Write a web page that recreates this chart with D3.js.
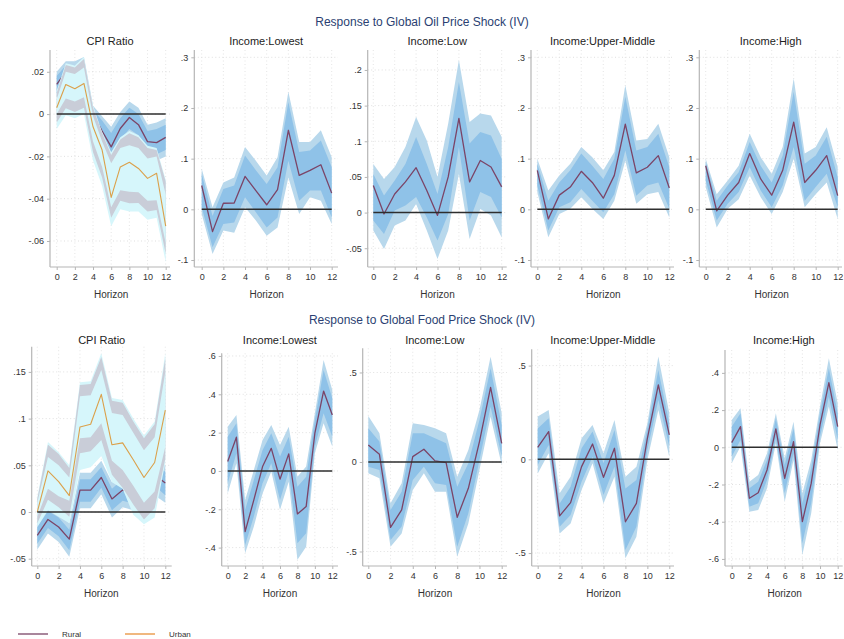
<!DOCTYPE html>
<html>
<head>
<meta charset="utf-8">
<script src="https://cdn.jsdelivr.net/npm/d3@7.9.0/dist/d3.min.js"></script>
<style>
  html, body { margin: 0; padding: 0; background: #fff; }
  svg { display: block; font-family: "Liberation Sans", Arial, sans-serif; }
</style>
</head>
<body>
<svg id="chart" width="844" height="639"></svg>
<script>
// horizons and tick labels
const horizons = [0, 1, 2, 3, 4, 5, 6, 7, 8, 9, 10, 11, 12];
const xTicks = [0, 2, 4, 6, 8, 10, 12];
const rowTitles = ['Response to Global Oil Price Shock (IV)', 'Response to Global Food Price Shock (IV)'];
const panelTitles = ['CPI Ratio', 'Income:Lowest', 'Income:Low', 'Income:Upper-Middle', 'Income:High'];
const legendLabels = ['Rural', 'Urban'];

// y ticks per panel
const ticksOilCpi = [0.02, 0, -0.02, -0.04, -0.06];
const ticksOilInc = [0.3, 0.2, 0.1, 0, -0.1];
const ticksOilLow = [0.2, 0.15, 0.1, 0.05, 0, -0.05];
const ticksFoodCpi = [0.15, 0.1, 0.05, 0, -0.05];
const ticksFoodLowest = [0.6, 0.4, 0.2, 0, -0.2, -0.4];
const ticksFoodLow = [0.5, 0, -0.5];
const ticksFoodHigh = [0.4, 0.2, 0, -0.2, -0.4, -0.6];

// ---- oil shock, CPI ratio ----
const oilRuralIrf  = [0.014, 0.02, 0.02, 0.021, 0.0, -0.008, -0.0155, -0.0068, -0.0016, -0.005, -0.013, -0.0135, -0.011];
const oilRuralHi90 = [0.02, 0.025, 0.025, 0.027, 0.004, -0.001, -0.006, 0.001, 0.006, 0.003, -0.005, -0.004, -0.002];
const oilRuralLo90 = [0.008, 0.014, 0.014, 0.015, -0.005, -0.015, -0.025, -0.015, -0.01, -0.013, -0.021, -0.022, -0.02];
const oilRuralHi68 = [0.018, 0.023, 0.023, 0.025, 0.002, -0.003, -0.009, -0.002, 0.003, 0.0, -0.008, -0.007, -0.005];
const oilRuralLo68 = [0.01, 0.016, 0.016, 0.017, -0.003, -0.012, -0.022, -0.012, -0.007, -0.01, -0.018, -0.019, -0.017];

const oilUrbanIrf  = [0.003, 0.014, 0.012, 0.0145, -0.006, -0.017, -0.0394, -0.025, -0.0228, -0.0257, -0.0304, -0.028, -0.053];
const oilUrbanHi95 = [0.011, 0.024, 0.023, 0.027, 0.004, -0.0085, -0.018, -0.011, -0.008, -0.01, -0.015, -0.016, -0.031];
const oilUrbanHi90 = [0.01, 0.0232, 0.022, 0.026, 0.003, -0.009, -0.0194, -0.012, -0.0091, -0.011, -0.016, -0.017, -0.032];
const oilUrbanHi68 = [0.007, 0.02, 0.019, 0.022, -0.001, -0.013, -0.0233, -0.016, -0.0147, -0.016, -0.021, -0.02, -0.038];
const oilUrbanLo68 = [0.0, 0.0074, 0.006, 0.008, -0.013, -0.025, -0.044, -0.036, -0.0367, -0.037, -0.041, -0.0407, -0.061];
const oilUrbanLo90 = [-0.004, 0.0027, 0.001, 0.003, -0.018, -0.03, -0.049, -0.041, -0.0422, -0.042, -0.046, -0.0454, -0.066];
const oilUrbanLo95 = [-0.007, -0.0005, -0.002, 0.0, -0.022, -0.034, -0.053, -0.045, -0.046, -0.046, -0.05, -0.049, -0.07];

// ---- oil shock, income groups ----
const oilLowestIrf  = [0.047, -0.044, 0.012, 0.0125, 0.065, 0.037, 0.009, 0.039, 0.156, 0.067, 0.077, 0.088, 0.032];
const oilLowestHi90 = [0.08, 0.004, 0.053, 0.063, 0.123, 0.096, 0.067, 0.103, 0.232, 0.133, 0.133, 0.156, 0.103];
const oilLowestLo90 = [-0.009, -0.088, -0.042, -0.046, 0.004, -0.022, -0.052, -0.036, 0.063, -0.009, 0.024, 0.017, -0.029];
const oilLowestHi68 = [0.07, -0.013, 0.04, 0.047, 0.106, 0.077, 0.05, 0.083, 0.212, 0.113, 0.116, 0.136, 0.083];
const oilLowestLo68 = [0.004, -0.075, -0.029, -0.026, 0.024, -0.006, -0.036, -0.016, 0.096, 0.017, 0.037, 0.037, -0.016];

const oilLowIrf  = [0.038, -0.002, 0.026, 0.043, 0.063, 0.031, -0.004, 0.05, 0.132, 0.043, 0.073, 0.064, 0.036];
const oilLowHi90 = [0.068, 0.047, 0.064, 0.092, 0.134, 0.101, 0.05, 0.125, 0.214, 0.127, 0.139, 0.136, 0.106];
const oilLowLo90 = [-0.025, -0.051, -0.018, -0.011, 0.012, -0.025, -0.065, -0.025, 0.054, -0.037, 0.005, -0.004, -0.035];
const oilLowHi68 = [0.054, 0.024, 0.045, 0.068, 0.106, 0.068, 0.026, 0.092, 0.183, 0.097, 0.113, 0.108, 0.075];
const oilLowLo68 = [-0.011, -0.03, 0.003, 0.01, 0.022, -0.007, -0.039, -0.002, 0.092, -0.011, 0.029, 0.022, -0.007];

const oilUpperMidIrf  = [0.077, -0.019, 0.028, 0.044, 0.075, 0.053, 0.022, 0.067, 0.168, 0.072, 0.083, 0.106, 0.042];
const oilUpperMidHi90 = [0.1, 0.037, 0.067, 0.09, 0.123, 0.103, 0.077, 0.113, 0.245, 0.136, 0.139, 0.169, 0.103];
const oilUpperMidLo90 = [0.034, -0.055, -0.009, 0.001, 0.024, 0.001, -0.019, 0.017, 0.096, 0.011, 0.03, 0.034, -0.016];
const oilUpperMidHi68 = [0.09, 0.017, 0.053, 0.077, 0.11, 0.086, 0.06, 0.1, 0.222, 0.116, 0.123, 0.149, 0.083];
const oilUpperMidLo68 = [0.047, -0.042, 0.004, 0.014, 0.04, 0.017, -0.006, 0.03, 0.116, 0.027, 0.047, 0.053, 0.001];

const oilHighIrf  = [0.086, -0.003, 0.028, 0.053, 0.11, 0.06, 0.028, 0.077, 0.172, 0.053, 0.077, 0.106, 0.027];
const oilHighHi90 = [0.1, 0.03, 0.057, 0.086, 0.149, 0.103, 0.07, 0.123, 0.258, 0.11, 0.123, 0.162, 0.083];
const oilHighLo90 = [0.044, -0.036, 0.001, 0.02, 0.067, 0.024, -0.009, 0.034, 0.1, 0.004, 0.03, 0.053, -0.019];
const oilHighHi68 = [0.093, 0.017, 0.047, 0.073, 0.133, 0.086, 0.053, 0.106, 0.232, 0.09, 0.106, 0.143, 0.063];
const oilHighLo68 = [0.057, -0.022, 0.011, 0.034, 0.083, 0.037, 0.004, 0.047, 0.123, 0.017, 0.044, 0.07, 0.004];

// ---- food shock, CPI ratio ----
const foodRuralIrf  = [-0.025, -0.008, -0.016, -0.029, 0.0235, 0.0235, 0.037, 0.014, 0.0235, 0.02, 0.015, 0.04, 0.031];
const foodRuralHi90 = [-0.01, 0.007, 0.0, -0.012, 0.042, 0.042, 0.055, 0.032, 0.042, 0.038, 0.033, 0.06, 0.05];
const foodRuralLo90 = [-0.04, -0.023, -0.032, -0.048, 0.004, 0.004, 0.019, -0.006, 0.005, 0.002, -0.003, 0.018, 0.01];
const foodRuralHi68 = [-0.016, 0.001, -0.006, -0.019, 0.035, 0.035, 0.048, 0.025, 0.035, 0.031, 0.026, 0.051, 0.043];
const foodRuralLo68 = [-0.034, -0.017, -0.026, -0.041, 0.011, 0.011, 0.026, 0.002, 0.012, 0.009, 0.004, 0.028, 0.018];

const foodUrbanIrf  = [0.0, 0.044, 0.0325, 0.0175, 0.091, 0.094, 0.126, 0.072, 0.074, 0.056, 0.037, 0.053, 0.109];
const foodUrbanHi95 = [0.016, 0.075, 0.064, 0.05, 0.139, 0.14, 0.17, 0.122, 0.12, 0.1, 0.082, 0.097, 0.17];
const foodUrbanHi90 = [0.014, 0.072, 0.062, 0.047, 0.136, 0.137, 0.166, 0.119, 0.117, 0.097, 0.079, 0.094, 0.165];
const foodUrbanHi68 = [0.01, 0.059, 0.05, 0.037, 0.124, 0.125, 0.152, 0.106, 0.104, 0.085, 0.066, 0.08, 0.15];
const foodUrbanLo68 = [-0.005, 0.025, 0.017, 0.012, 0.079, 0.08, 0.095, 0.055, 0.045, 0.028, 0.01, 0.022, 0.07];
const foodUrbanLo90 = [-0.012, 0.013, 0.005, -0.005, 0.063, 0.065, 0.077, 0.04, 0.026, 0.008, -0.008, 0.004, 0.057];
const foodUrbanLo95 = [-0.016, 0.002, -0.005, -0.012, 0.045, 0.048, 0.06, 0.032, 0.025, -0.003, -0.013, -0.006, 0.053];

// ---- food shock, income groups ----
const foodLowestIrf  = [0.049, 0.176, -0.317, -0.151, 0.023, 0.118, -0.043, 0.089, -0.224, -0.186, 0.197, 0.417, 0.292];
const foodLowestHi90 = [0.231, 0.292, -0.151, 0.005, 0.162, 0.24, 0.136, 0.231, -0.03, 0.023, 0.301, 0.579, 0.423];
const foodLowestLo90 = [-0.117, 0.04, -0.43, -0.29, -0.117, -0.003, -0.203, -0.056, -0.464, -0.395, 0.092, 0.249, 0.127];
const foodLowestHi68 = [0.179, 0.249, -0.203, -0.047, 0.11, 0.197, 0.075, 0.179, -0.082, -0.03, 0.266, 0.527, 0.379];
const foodLowestLo68 = [-0.064, 0.092, -0.386, -0.238, -0.064, 0.04, -0.151, -0.003, -0.377, -0.325, 0.127, 0.301, 0.179];

const foodLowIrf  = [0.095, 0.043, -0.365, -0.268, 0.03, 0.071, 0.006, -0.004, -0.309, -0.147, 0.114, 0.417, 0.104];
const foodLowHi90 = [0.257, 0.16, -0.231, -0.119, 0.216, 0.207, 0.188, 0.16, -0.082, 0.067, 0.29, 0.588, 0.272];
const foodLowLo90 = [-0.063, -0.091, -0.473, -0.399, -0.156, -0.063, -0.166, -0.166, -0.529, -0.343, -0.045, 0.253, -0.017];
const foodLowHi68 = [0.188, 0.114, -0.268, -0.166, 0.16, 0.16, 0.132, 0.104, -0.138, -0.007, 0.235, 0.523, 0.207];
const foodLowLo68 = [-0.026, -0.045, -0.436, -0.361, -0.101, -0.026, -0.119, -0.128, -0.473, -0.287, 0.011, 0.309, 0.03];

const foodUpperMidIrf  = [0.064, 0.148, -0.302, -0.231, -0.039, 0.082, -0.096, 0.059, -0.333, -0.235, 0.112, 0.397, 0.13];
const foodUpperMidHi90 = [0.228, 0.263, -0.181, -0.093, 0.112, 0.183, 0.032, 0.21, -0.093, -0.039, 0.192, 0.548, 0.246];
const foodUpperMidLo90 = [-0.075, 0.032, -0.395, -0.342, -0.164, -0.021, -0.235, -0.093, -0.528, -0.413, -0.004, 0.263, 0.014];
const foodUpperMidHi68 = [0.165, 0.219, -0.235, -0.146, 0.059, 0.148, -0.021, 0.157, -0.155, -0.11, 0.165, 0.477, 0.192];
const foodUpperMidLo68 = [-0.03, 0.077, -0.359, -0.297, -0.119, 0.014, -0.19, -0.039, -0.484, -0.359, 0.05, 0.317, 0.068];

const foodHighIrf  = [0.025, 0.111, -0.274, -0.244, -0.122, 0.099, -0.167, 0.03, -0.4, -0.194, 0.12, 0.348, 0.111];
const foodHighHi90 = [0.147, 0.21, -0.185, -0.149, -0.032, 0.183, -0.059, 0.138, -0.247, -0.068, 0.219, 0.478, 0.237];
const foodHighLo90 = [-0.086, 0.004, -0.346, -0.337, -0.22, 0.022, -0.292, -0.068, -0.579, -0.355, 0.022, 0.219, -0.014];
const foodHighHi68 = [0.111, 0.183, -0.22, -0.185, -0.068, 0.156, -0.095, 0.102, -0.301, -0.113, 0.183, 0.425, 0.183];
const foodHighLo68 = [-0.05, 0.039, -0.319, -0.301, -0.176, 0.048, -0.247, -0.032, -0.516, -0.301, 0.057, 0.272, 0.039];

// colours
const bandOuter = '#b8d8ec';
const bandInner = '#8fc2e8';
const ruralColor = '#7b4467';
const urbanColor = '#dba04a';
const urbanCyan = '#d6f6fb';
const urbanGrey = '#c9cdd8';

const svg = d3.select('#chart');

// layout of each panel (pixels) -- x0/x12 = where horizon 0 and 12 fall
const panels = [
  { row: 0, title: panelTitles[0], x0: 56.7, x12: 165.7, axL: 50, axR: 170, yTop: 50, yBot: 267, yDom: [-0.0723, 0.0303], ticks: ticksOilCpi,
    cpi: { rural: [oilRuralIrf, oilRuralLo90, oilRuralHi90, oilRuralLo68, oilRuralHi68],
           urban: [oilUrbanIrf, oilUrbanLo95, oilUrbanHi95, oilUrbanLo90, oilUrbanHi90, oilUrbanLo68, oilUrbanHi68] } },
  { row: 0, title: panelTitles[1], x0: 201.7, x12: 331.7, axL: 194.3, axR: 338, yTop: 50, yBot: 267, yDom: [-0.1138, 0.3144], ticks: ticksOilInc,
    series: [oilLowestIrf, oilLowestLo90, oilLowestHi90, oilLowestLo68, oilLowestHi68] },
  { row: 0, title: panelTitles[2], x0: 373.3, x12: 501.7, axL: 367.7, axR: 506.7, yTop: 50, yBot: 267, yDom: [-0.0763, 0.228], ticks: ticksOilLow,
    series: [oilLowIrf, oilLowLo90, oilLowHi90, oilLowLo68, oilLowHi68] },
  { row: 0, title: panelTitles[3], x0: 537.3, x12: 669.3, axL: 531, axR: 674, yTop: 50, yBot: 267, yDom: [-0.1138, 0.3144], ticks: ticksOilInc,
    series: [oilUpperMidIrf, oilUpperMidLo90, oilUpperMidHi90, oilUpperMidLo68, oilUpperMidHi68] },
  { row: 0, title: panelTitles[4], x0: 705.7, x12: 837.7, axL: 699.3, axR: 842, yTop: 50, yBot: 267, yDom: [-0.1138, 0.3144], ticks: ticksOilInc,
    series: [oilHighIrf, oilHighLo90, oilHighHi90, oilHighLo68, oilHighHi68] },

  { row: 1, title: panelTitles[0], x0: 37.3, x12: 165.3, axL: 31.7, axR: 171.7, yTop: 346.7, yBot: 566, yDom: [-0.0578, 0.177], ticks: ticksFoodCpi,
    cpi: { rural: [foodRuralIrf, foodRuralLo90, foodRuralHi90, foodRuralLo68, foodRuralHi68],
           urban: [foodUrbanIrf, foodUrbanLo95, foodUrbanHi95, foodUrbanLo90, foodUrbanHi90, foodUrbanLo68, foodUrbanHi68] } },
  { row: 1, title: panelTitles[1], x0: 227.7, x12: 332.3, axL: 221.7, axR: 338, yTop: 353.3, yBot: 566, yDom: [-0.496, 0.614], ticks: ticksFoodLowest,
    series: [foodLowestIrf, foodLowestLo90, foodLowestHi90, foodLowestLo68, foodLowestHi68] },
  { row: 1, title: panelTitles[2], x0: 368.3, x12: 501.7, axL: 362.7, axR: 507, yTop: 348.3, yBot: 566, yDom: [-0.581, 0.635], ticks: ticksFoodLow,
    series: [foodLowIrf, foodLowLo90, foodLowHi90, foodLowLo68, foodLowHi68] },
  { row: 1, title: panelTitles[3], x0: 537.7, x12: 669.3, axL: 531.7, axR: 674, yTop: 349.3, yBot: 566, yDom: [-0.569, 0.587], ticks: ticksFoodLow,
    series: [foodUpperMidIrf, foodUpperMidLo90, foodUpperMidHi90, foodUpperMidLo68, foodUpperMidHi68] },
  { row: 1, title: panelTitles[4], x0: 731.7, x12: 837.7, axL: 725, axR: 842.7, yTop: 350, yBot: 566, yDom: [-0.638, 0.523], ticks: ticksFoodHigh,
    series: [foodHighIrf, foodHighLo90, foodHighHi90, foodHighLo68, foodHighHi68] }
];

// stata style labels: .05, -.2, 0
function fmtTick(v) {
  if (v === 0) return '0';
  let s = String(Math.abs(v)).replace(/^0\./, '.');
  return (v < 0 ? '-' : '') + s;
}

function drawBand(g, x, y, lo, hi, fill) {
  const area = d3.area()
    .x((d, i) => x(horizons[i]))
    .y0((d, i) => y(lo[i]))
    .y1((d, i) => y(hi[i]));
  g.append('path').attr('d', area(lo)).attr('fill', fill).attr('stroke', 'none');
}

function drawLine(g, x, y, vals, color, w) {
  const line = d3.line()
    .x((d, i) => x(horizons[i]))
    .y((d) => y(d));
  g.append('path').attr('d', line(vals)).attr('fill', 'none')
    .attr('stroke', color).attr('stroke-width', w).attr('stroke-linejoin', 'round');
}

panels.forEach((p) => {
  const x = d3.scaleLinear().domain([0, 12]).range([p.x0, p.x12]);
  const y = d3.scaleLinear().domain(p.yDom).range([p.yBot, p.yTop]);
  const g = svg.append('g');

  // dotted grid
  g.append('g').selectAll('line').data(p.ticks).join('line')
    .attr('x1', p.axL).attr('x2', p.axR)
    .attr('y1', (d) => y(d)).attr('y2', (d) => y(d))
    .attr('stroke', '#d8d8d8').attr('stroke-width', 0.8).attr('stroke-dasharray', '1,2.5');
  g.append('g').selectAll('line').data(xTicks).join('line')
    .attr('x1', (d) => x(d)).attr('x2', (d) => x(d))
    .attr('y1', p.yTop).attr('y2', p.yBot)
    .attr('stroke', '#dedede').attr('stroke-width', 0.8).attr('stroke-dasharray', '1,2.5');

  if (p.cpi) {
    const [rIrf, rLo90, rHi90, rLo68, rHi68] = p.cpi.rural;
    const [uIrf, uLo95, uHi95, uLo90, uHi90, uLo68, uHi68] = p.cpi.urban;
    drawBand(g, x, y, rLo90, rHi90, bandOuter);
    drawBand(g, x, y, rLo68, rHi68, bandInner);
    drawLine(g, x, y, rIrf, ruralColor, 1.3);
    drawBand(g, x, y, uLo95, uHi95, urbanCyan);
    drawBand(g, x, y, uLo90, uHi90, urbanGrey);
    drawBand(g, x, y, uLo68, uHi68, urbanCyan);
    drawLine(g, x, y, uIrf, urbanColor, 1.1);
  } else {
    const [irf, lo90, hi90, lo68, hi68] = p.series;
    drawBand(g, x, y, lo90, hi90, bandOuter);
    drawBand(g, x, y, lo68, hi68, bandInner);
    drawLine(g, x, y, irf, ruralColor, 1.3);
  }

  // zero line
  g.append('line')
    .attr('x1', x(0)).attr('x2', x(12))
    .attr('y1', y(0)).attr('y2', y(0))
    .attr('stroke', '#2e2e2e').attr('stroke-width', 1.5);

  // axes
  const yAxis = d3.axisLeft(y).tickValues(p.ticks).tickFormat(fmtTick).tickSize(3).tickPadding(3);
  const ya = g.append('g').attr('transform', `translate(${p.axL},0)`).call(yAxis);
  ya.select('.domain').attr('d', `M0,${p.yTop}V${p.yBot}`);

  const xAxis = d3.axisBottom(x).tickValues(xTicks).tickFormat(d3.format('d')).tickSize(3).tickPadding(4);
  const xa = g.append('g').attr('transform', `translate(0,${p.yBot})`).call(xAxis);
  xa.select('.domain').attr('d', `M${p.axL},0H${p.axR}`);

  [ya, xa].forEach((a) => {
    a.select('.domain').attr('stroke', '#b5b5b5').attr('stroke-width', 1.2);
    a.selectAll('.tick line').attr('stroke', '#b5b5b5');
    a.selectAll('.tick text').attr('fill', '#333').style('font-size', '9px');
  });

  // panel title and x label
  const cx = (p.axL + p.axR) / 2;
  g.append('text').attr('x', cx).attr('y', p.row === 0 ? 45 : 344)
    .attr('text-anchor', 'middle').attr('fill', '#222')
    .style('font-size', '11px').text(p.title);
  g.append('text').attr('x', (x(0) + x(12)) / 2).attr('y', p.yBot + 31)
    .attr('text-anchor', 'middle').attr('fill', '#333')
    .style('font-size', '10px').text('Horizon');
});

// row titles
svg.selectAll('text.rowTitle').data(rowTitles).join('text')
  .attr('class', 'rowTitle')
  .attr('x', 422).attr('y', (d, i) => (i === 0 ? 26 : 324))
  .attr('text-anchor', 'middle').attr('fill', '#2b3f72')
  .style('font-size', '12px').text((d) => d);

// legend
const legendColors = [ruralColor, '#e8923a'];
const legendX = [18, 125];
const lg = svg.append('g');
legendLabels.forEach((lab, i) => {
  lg.append('line').attr('x1', legendX[i]).attr('x2', legendX[i] + 30)
    .attr('y1', 634).attr('y2', 634)
    .attr('stroke', legendColors[i]).attr('stroke-width', 1.3);
  lg.append('text').attr('x', legendX[i] + 44).attr('y', 637)
    .attr('fill', '#333').style('font-size', '8px').text(lab);
});
</script>
</body>
</html>
